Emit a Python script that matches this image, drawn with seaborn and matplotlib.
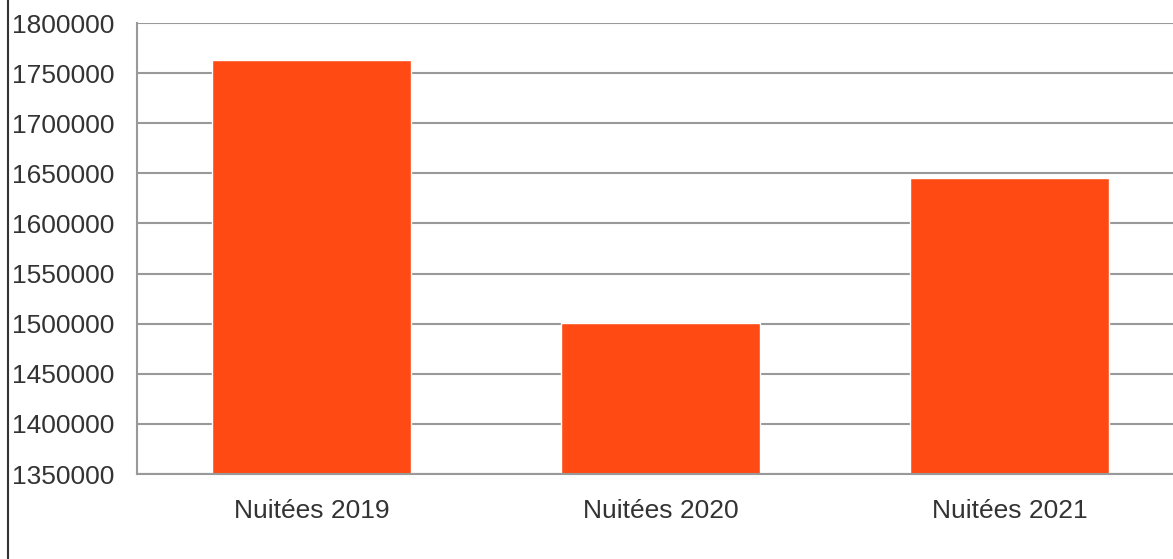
import matplotlib
matplotlib.use("Agg")
import matplotlib.pyplot as plt
from matplotlib.lines import Line2D
import seaborn as sns
import pandas as pd

# data
categories = ["Nuitées 2019", "Nuitées 2020", "Nuitées 2021"]
nuitees = [1763000, 1500500, 1645500]
y_ticks = list(range(1350000, 1800001, 50000))

BAR_COLOR = "#FF4A14"
GRID_COLOR = "#999999"

sns.set_style("white")
plt.rcParams["font.family"] = ["Liberation Sans", "DejaVu Sans"]

df = pd.DataFrame({"cat": categories, "val": nuitees})

fig = plt.figure(figsize=(11.73, 5.59), dpi=100)
ax = fig.add_axes([137 / 1173, 1 - 474 / 559, 1047 / 1173, (474 - 23) / 559])

sns.barplot(data=df, x="cat", y="val", color=BAR_COLOR, saturation=1,
            width=0.57, ax=ax)

ax.set_ylim(1350000, 1800000)
ax.set_xlim(-0.5, 2.5)
ax.set_yticks(y_ticks)
ax.set_yticklabels([str(t) for t in y_ticks], fontsize=19, color="#333333")
ax.tick_params(axis="y", length=8, width=1.5, color=GRID_COLOR, pad=8)
ax.tick_params(axis="x", length=0, labelsize=19, labelcolor="#333333", pad=18)
ax.set_xlabel("")
ax.set_ylabel("")

ax.set_axisbelow(True)
ax.yaxis.grid(True, color=GRID_COLOR, linewidth=1.5)
ax.xaxis.grid(False)
for side in ["top", "right"]:
    ax.spines[side].set_visible(False)
ax.spines["left"].set_color(GRID_COLOR)
ax.spines["left"].set_linewidth(1.5)
ax.spines["bottom"].set_color(GRID_COLOR)
ax.spines["bottom"].set_linewidth(1.5)

# thin dark border on the far left
fig.add_artist(Line2D([7.5 / 1173, 7.5 / 1173], [0, 1], transform=fig.transFigure,
                      color="#333333", linewidth=1.5))

fig.savefig("out.png", dpi=100)
